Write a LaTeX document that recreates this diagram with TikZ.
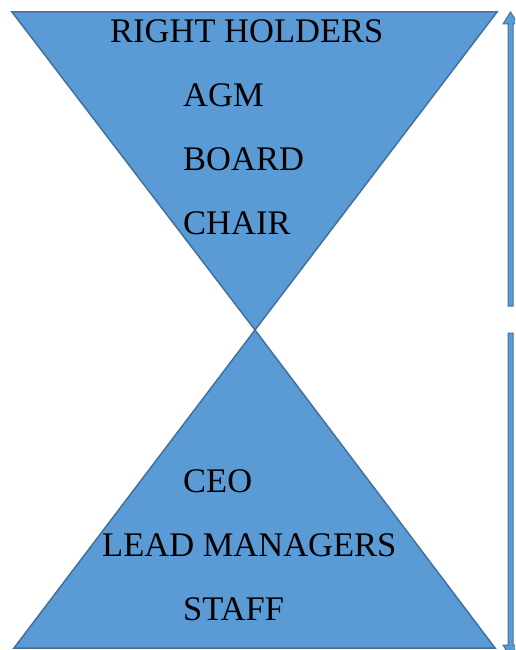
\documentclass[tikz,border=0pt]{standalone}
\usepackage{fontspec}
\setmainfont{Liberation Serif}
\definecolor{tribody}{HTML}{5B9BD5}
\definecolor{triline}{HTML}{41719C}
\begin{document}
\begin{tikzpicture}[x=1pt,y=-1pt,
		every node/.style={anchor=west, inner sep=0pt, font=\fontsize{34.5}{38}\selectfont},
		tri/.style={fill=tribody, draw=triline, line width=1.5pt, line join=miter}]
		\clip (0,0) rectangle (515,650);

		\coordinate (tl) at (12,12);
		\coordinate (tr) at (497,12);
		\coordinate (mid) at (255,330);
		\coordinate (bl) at (14,648);
		\coordinate (br) at (495,648);

		\draw[tri] (tl) -- (tr) -- (mid) -- cycle;
		\draw[tri] (bl) -- (br) -- (mid) -- cycle;

		\node (holders) at (110,31) {RIGHT HOLDERS};
		\node (agm) at (183,95) {AGM};
		\node (board) at (183,159) {BOARD};
		\node (chair) at (183,223) {CHAIR};

		\node (ceo) at (183,481) {CEO};
		\node (leads) at (102,545) {LEAD MANAGERS};
		\node (staff) at (183,609) {STAFF};

		% arrows up and down the right side
		\draw[tri, line width=1pt] (508,306) -- (508,24) -- (503,24) -- (510.5,12)
			-- (518,24) -- (513,24) -- (513,306) -- cycle;
		\draw[tri, line width=1pt] (508,333) -- (508,645) -- (503,645) -- (510.5,657)
			-- (518,645) -- (513,645) -- (513,333) -- cycle;
	\end{tikzpicture}
\end{document}
